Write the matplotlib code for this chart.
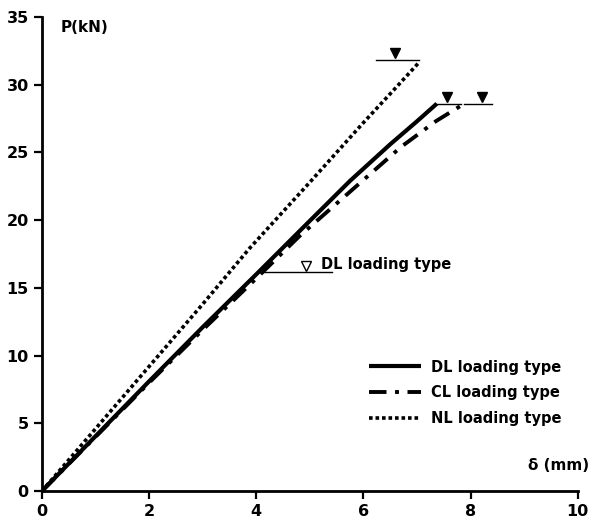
import matplotlib
matplotlib.use("Agg")
import matplotlib.pyplot as plt

# Datos (desplazamiento en mm, carga en kN)
dl_x = [0, 1, 2, 3, 4, 5.0, 5.75, 6.5, 7.0, 7.37]
dl_p = [0, 4.05, 8.1, 12.1, 16.0, 19.95, 22.9, 25.6, 27.3, 28.6]

cl_x = [0, 1, 2, 3, 4, 4.8, 5.75, 6.7, 7.35, 7.8]
cl_p = [0, 4.0, 8.0, 11.9, 15.7, 18.8, 22.1, 25.4, 27.3, 28.4]

nl_x = [0, 1, 2, 3, 3.87, 5, 6, 6.54, 7.05]
nl_p = [0, 4.6, 9.2, 13.8, 17.9, 22.8, 27.2, 29.5, 31.7]

etiquetas = ["DL loading type", "CL loading type", "NL loading type"]

# Marcas de rotura (triangulo lleno sobre una linea corta)
rotura_x = [6.59, 7.56, 8.21]
rotura_p = [31.85, 28.6, 28.6]
rotura_ini = [6.24, 7.32, 7.88]
rotura_fin = [7.04, 7.82, 8.40]

# Marca de DL (triangulo abierto)
dl_marca_x = 4.93
dl_marca_p = 16.15
dl_marca_ini = 4.12
dl_marca_fin = 5.42

xticks = [0, 2, 4, 6, 8, 10]
yticks = [0, 5, 10, 15, 20, 25, 30, 35]


def main():
    fig = plt.figure(figsize=(5.95, 5.24), dpi=100)
    ax = fig.add_axes([0.0706, 0.063, 0.9004, 0.9046])

    ax.plot(dl_x, dl_p, color="black", lw=3.0, solid_capstyle="butt",
            label=etiquetas[0])
    ax.plot(cl_x, cl_p, color="black", lw=2.8, dashes=(4.5, 2.2, 1.0, 2.2),
            label=etiquetas[1])
    ax.plot(nl_x, nl_p, color="black", lw=2.6, dashes=(1.0, 0.8),
            label=etiquetas[2])

    # lineas cortas y triangulos de rotura
    for xm, pm, a, b in zip(rotura_x, rotura_p, rotura_ini, rotura_fin):
        ax.plot([a, b], [pm, pm], color="black", lw=1.0)
        ax.plot([xm], [pm + 0.5], marker="v", ms=7.5, color="black",
                linestyle="none")

    ax.plot([dl_marca_ini, dl_marca_fin], [dl_marca_p, dl_marca_p],
            color="black", lw=1.0)
    ax.plot([dl_marca_x], [dl_marca_p + 0.45], marker="v", ms=7,
            markerfacecolor="white", markeredgecolor="black", mew=1.0,
            linestyle="none")
    ax.text(5.21, 16.7, "DL loading type", fontsize=10.5, fontweight="bold",
            va="center", ha="left")

    ax.set_xlim(0, 10)
    ax.set_ylim(0, 35)
    ax.set_xticks(xticks)
    ax.set_yticks(yticks)
    ax.tick_params(direction="out", length=6, width=1.6, labelsize=11.5)
    for lab in ax.get_xticklabels() + ax.get_yticklabels():
        lab.set_fontweight("bold")

    for lado in ["top", "right"]:
        ax.spines[lado].set_visible(False)
    for lado in ["left", "bottom"]:
        ax.spines[lado].set_linewidth(2.0)

    ax.text(0.34, 34.2, "P(kN)", fontsize=11, fontweight="bold",
            va="center", ha="left")
    ax.text(10.22, 1.9, "δ (mm)", fontsize=11, fontweight="bold",
            va="center", ha="right", clip_on=False)

    leg = ax.legend(loc="upper left", bbox_to_anchor=(0.585, 0.305),
                    frameon=False, handlelength=3.6, handletextpad=0.7,
                    labelspacing=0.75, prop={"size": 10.5, "weight": "bold"})

    fig.savefig("out.png", dpi=100)
    plt.close(fig)


main()
